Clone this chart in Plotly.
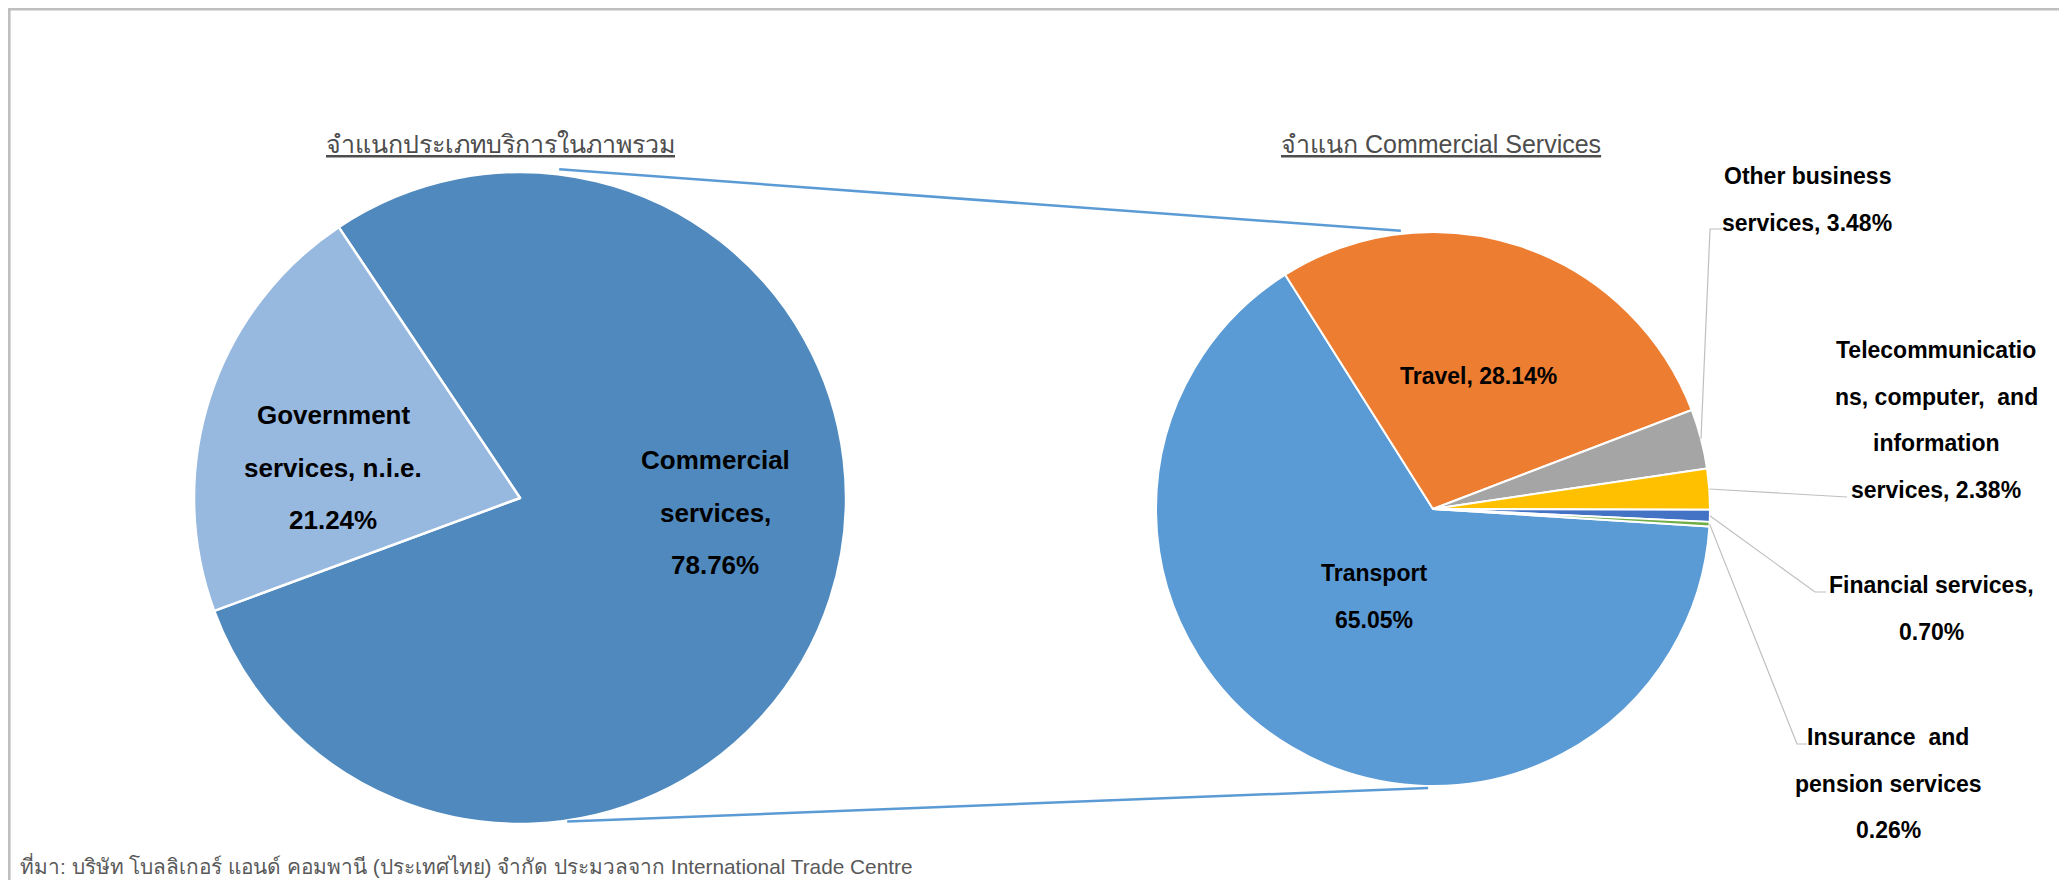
import math
import plotly.graph_objects as go

# page is 2067x880; the html body adds an 8px margin, so the figure is 8px smaller
PAGE_W, PAGE_H, OFF = 2067, 880, 8
W, H = PAGE_W - OFF, PAGE_H - OFF

# ---------------- data ----------------
overall_labels = ["Commercial services", "Government services, n.i.e."]
overall_values = [78.76, 21.24]
overall_colors = ["#4F89BD", "#97B9E0"]

comm_labels = ["Transport", "Travel", "Other business services",
               "Telecommunications, computer, and information services",
               "Financial services", "Insurance and pension services"]
comm_values = [65.05, 28.14, 3.48, 2.38, 0.70, 0.26]
comm_colors = ["#5B9BD5", "#ED7D31", "#A5A5A5", "#FFC000", "#4472C4", "#70AD47"]

title_left = "จำแนกประเภทบริการในภาพรวม"
title_right = "จำแนก Commercial Services"
footer_text = "ที่มา: บริษัท โบลลิเกอร์ แอนด์ คอมพานี (ประเทศไทย) จำกัด ประมวลจาก International Trade Centre"

# label text lines (as wrapped in the original)
overall_label_lines = [["Commercial", "services,", "78.76%"],
                       ["Government", "services, n.i.e.", "21.24%"]]
comm_label_lines = [["Transport", "65.05%"],
                    ["Travel, 28.14%"],
                    ["Other business", "services, 3.48%"],
                    ["Telecommunicatio", "ns, computer,  and", "information", "services, 2.38%"],
                    ["Financial services,", "0.70%"],
                    ["Insurance  and", "pension services", "0.26%"]]

# ---------------- geometry (page pixel coordinates) ----------------
L_CX, L_CY, L_R, L_ROT = 520, 498, 326, -33.8
R_CX, R_CY, R_R, R_ROT = 1433, 509, 277, 93.6


def domain(cx, cy, r):
    cx, cy = cx - OFF, cy - OFF
    return dict(x=[(cx - r) / W, (cx + r) / W], y=[1 - (cy + r) / H, 1 - (cy - r) / H])


def pt(cx, cy, r, ang):
    a = math.radians(ang)
    return cx + r * math.sin(a), cy - r * math.cos(a)


def mid_angles(values, rot):
    tot = sum(values)
    out, cur = [], rot
    for v in values:
        span = 360 * v / tot
        out.append(cur + span / 2)
        cur += span
    return out


fig = go.Figure()
fig.add_trace(go.Pie(labels=overall_labels, values=overall_values, sort=False,
                     direction="clockwise", rotation=L_ROT, textinfo="none", hoverinfo="label+percent",
                     marker=dict(colors=overall_colors, line=dict(color="white", width=2.5)),
                     domain=domain(L_CX, L_CY, L_R), showlegend=False))
fig.add_trace(go.Pie(labels=comm_labels, values=comm_values, sort=False,
                     direction="clockwise", rotation=R_ROT, textinfo="none", hoverinfo="label+percent",
                     marker=dict(colors=comm_colors, line=dict(color="white", width=2)),
                     domain=domain(R_CX, R_CY, R_R), showlegend=False))

shapes = []
# chart-area border (paper-referenced so it is not clipped; bottom edge lies below the page)
bx0 = 1.3 / W
bx1 = (2062 - OFF) / W
by1 = 1 - 1.3 / H
shapes.append(dict(type="path", xref="paper", yref="paper",
                   path=f"M {bx0},-0.2 L {bx0},{by1} L {bx1},{by1} L {bx1},-0.2",
                   line=dict(color="#BFBFBF", width=2.6), layer="above"))
# connector lines between pies
for la, ra, lr, rr in [(6.8, -6.6, L_R + 5, R_R + 3), (171.7, 181.0, L_R + 1, R_R + 2)]:
    x0, y0 = pt(L_CX, L_CY, lr, la)
    x1, y1 = pt(R_CX, R_CY, rr, ra)
    shapes.append(dict(type="line", xref="x", yref="y", x0=x0, y0=y0, x1=x1, y1=y1,
                       line=dict(color="#5B9BD5", width=2.5), layer="above"))

# leader lines for the small slices (start at slice edge, bend, end at label)
mids = mid_angles(comm_values, R_ROT)
leader_bends = {2: [(1710, 229), (1722, 229)],
                3: [(1847, 497)],
                4: [(1815, 592), (1826, 592)],
                5: [(1797, 744), (1807, 744)]}
for i, pts in leader_bends.items():
    sx, sy = pt(R_CX, R_CY, R_R, mids[i])
    path = f"M {sx:.1f},{sy:.1f} " + " ".join(f"L {x},{y}" for x, y in pts)
    shapes.append(dict(type="path", xref="x", yref="y", path=path,
                       line=dict(color="#BFBFBF", width=1.2), layer="above"))

annotations = []
LBL_FONT = "Liberation Sans, Arial, sans-serif"


def add_lines(lines, x, y0, spacing, size):
    for k, t in enumerate(lines):
        annotations.append(dict(xref="x", yref="y", x=x, y=y0 + k * spacing, text=f"<b>{t}</b>",
                                showarrow=False, xanchor="center", yanchor="middle",
                                font=dict(family=LBL_FONT, size=size, color="#000000")))


# left pie labels
add_lines(overall_label_lines[0], 715, 460, 52.5, 26)
add_lines(overall_label_lines[1], 333, 415, 52.5, 26)
# right pie labels
right_pos = [(1374, 573), (1478, 376), (1807, 176), (1936, 350), (1931, 585), (1888, 737)]
for lines, (x, y) in zip(comm_label_lines, right_pos):
    add_lines(lines, x, y, 46.7, 23)

TITLE_FONT = "Tahoma, Liberation Sans, DejaVu Sans, Noto Sans, sans-serif"
annotations.append(dict(xref="x", yref="y", x=500, y=144, text=f"<u>{title_left}</u>", showarrow=False,
                        xanchor="center", yanchor="middle",
                        font=dict(family=TITLE_FONT, size=25, color="#4D4D4D")))
annotations.append(dict(xref="x", yref="y", x=1441, y=144, text=f"<u>{title_right}</u>", showarrow=False,
                        xanchor="center", yanchor="middle",
                        font=dict(family=TITLE_FONT, size=25, color="#4D4D4D")))
annotations.append(dict(xref="x", yref="y", x=18, y=865, text=footer_text, showarrow=False,
                        xanchor="left", yanchor="middle",
                        font=dict(family="Liberation Sans Narrow, Arial Narrow, Liberation Sans, sans-serif",
                                  size=20.8, color="#595959")))

fig.update_layout(
    width=W, height=H, margin=dict(l=0, r=0, t=0, b=0),
    paper_bgcolor="white", plot_bgcolor="white", showlegend=False,
    xaxis=dict(range=[OFF, PAGE_W], visible=False, fixedrange=True, domain=[0, 1]),
    yaxis=dict(range=[PAGE_H, OFF], visible=False, fixedrange=True, domain=[0, 1]),
    shapes=shapes, annotations=annotations,
)

fig.write_html("out.html")
